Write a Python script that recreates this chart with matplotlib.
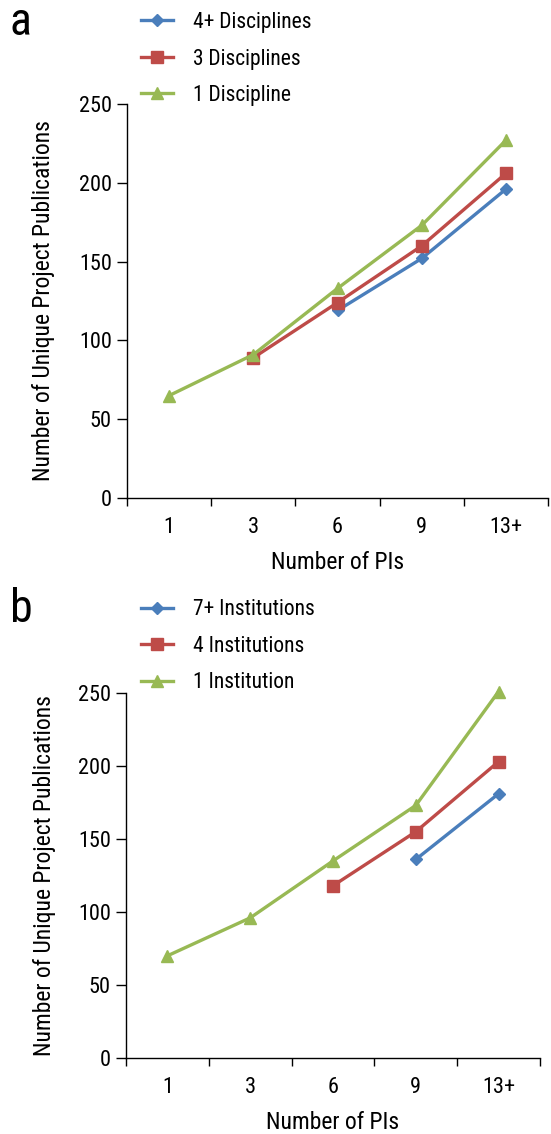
import matplotlib
matplotlib.use("Agg")
import matplotlib.pyplot as plt
import numpy as np

plt.rcParams['font.family'] = ['Roboto Condensed', 'Liberation Sans Narrow', 'DejaVu Sans']
plt.rcParams['font.stretch'] = 'condensed'

# categories on the x axis
pi_labels = ["1", "3", "6", "9", "13+"]

# panel a: disciplines
disc_names = ["4+ Disciplines", "3 Disciplines", "1 Discipline"]
disc_4plus = [None, None, 119, 152, 196]
disc_3 = [None, 89, 124, 160, 206]
disc_1 = [65, 91, 133, 173, 227]

# panel b: institutions
inst_names = ["7+ Institutions", "4 Institutions", "1 Institution"]
inst_7plus = [None, None, None, 136, 181]
inst_4 = [None, None, 118, 155, 203]
inst_1 = [70, 96, 135, 173, 251]

colors = ["#4A7EBB", "#BE4B48", "#98B954"]
markers = ["D", "s", "^"]
msizes = [6, 9, 9]


def draw_panel(ax, series, names, letter, letter_y, leg_y):
    x = np.arange(len(pi_labels))
    handles = []
    for vals, name, c, m, ms in zip(series, names, colors, markers, msizes):
        v = np.array([np.nan if q is None else q for q in vals], dtype=float)
        h, = ax.plot(x, v, color=c, lw=2.4, marker=m, markersize=ms,
                     label=name, clip_on=False)
        handles.append(h)

    ax.set_xlim(-0.5, len(pi_labels) - 0.5)
    ax.set_ylim(0, 250)
    ax.set_yticks([0, 50, 100, 150, 200, 250])
    ax.set_xticks(x)
    ax.set_xticklabels(pi_labels)
    ax.set_xticks(np.arange(len(pi_labels) + 1) - 0.5, minor=True)
    ax.tick_params(axis="x", which="major", length=0, pad=14, labelsize=16)
    ax.tick_params(axis="x", which="minor", length=6, width=1)
    ax.tick_params(axis="y", length=7, width=1, direction="out", labelsize=16, pad=4)
    for s in ["top", "right"]:
        ax.spines[s].set_visible(False)
    ax.spines["left"].set_linewidth(1)
    ax.spines["bottom"].set_linewidth(1)

    ax.set_xlabel("Number of PIs", fontsize=17, labelpad=9)
    ax.set_ylabel("Number of Unique Project Publications", fontsize=17)
    ax.yaxis.set_label_coords(-0.17, 0.5)

    fig = ax.figure
    fig.text(0.018, letter_y, letter, fontsize=33, va="baseline", ha="left")

    fig.legend(handles=handles, loc="upper left",
               bbox_to_anchor=(0.24, leg_y), frameon=False,
               fontsize=15.5, handlelength=1.5, handletextpad=0.9,
               labelspacing=0.72, borderaxespad=0)


fig = plt.figure(figsize=(5.51, 11.34), dpi=100)
ax_a = fig.add_axes([0.2305, 0.5608, 0.7641, 0.3475])
ax_b = fig.add_axes([0.2287, 0.0670, 0.7513, 0.3219])

draw_panel(ax_a, [disc_4plus, disc_3, disc_1], disc_names, "a", 0.969, 0.997)
draw_panel(ax_b, [inst_7plus, inst_4, inst_1], inst_names, "b", 0.4515, 0.479)

fig.savefig("out.png", dpi=100)
